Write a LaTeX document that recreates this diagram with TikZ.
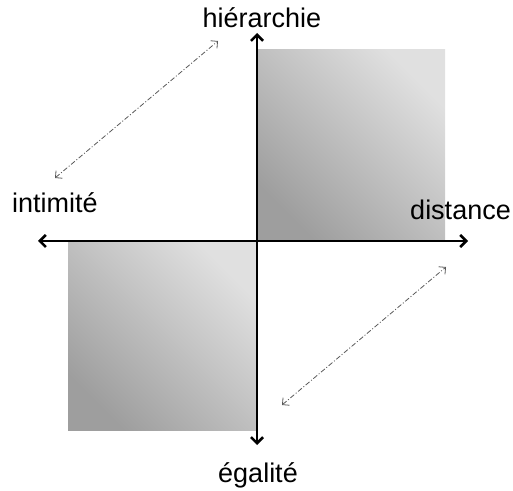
\documentclass[tikz,border=0pt]{standalone}
\usepackage{fontspec}
\setmainfont{Liberation Sans}
\usetikzlibrary{arrows.meta}

\tikzset{
    axis/.style={line width=2.6pt, -{Straight Barb[length=6pt,width=12pt]}},
    link/.style={black!65, line width=0.8pt, dash pattern=on 5pt off 2pt on 1pt off 2pt, {Straight Barb[length=5pt,width=10pt]}-{Straight Barb[length=5pt,width=10pt]}},
    quad/.style={bottom color=black!38, top color=black!12, shading angle=-45},
    lbl/.style={anchor=base, inner sep=0pt, font=\fontsize{27}{32}\selectfont}
}

\begin{document}
\begin{tikzpicture}[x=1pt, y=1pt]
    \useasboundingbox (0,0) rectangle (513,490);
    \shade[quad] (258,250) rectangle (445,440);
    \shade[quad] (68,60) rectangle (256,248);
    \coordinate (O) at (257,249);
    \coordinate (xl) at (38,249);
    \coordinate (xr) at (468,249);
    \coordinate (yt) at (257,457);
    \coordinate (yb) at (257,45);
    \draw[axis] (O) -- (xl);
    \draw[axis] (O) -- (xr);
    \draw[axis] (O) -- (yt);
    \draw[axis] (O) -- (yb);
    \node[lbl] (hier) at (262,462) {hiérarchie};
    \node[lbl, anchor=base west] (intim) at (12,277) {intimité};
    \node[lbl, anchor=base east] (dist) at (511,270) {distance};
    \node[lbl] (egal) at (258,8) {égalité};
    \coordinate (a1) at (55,312);
    \coordinate (a2) at (218,449);
    \coordinate (b1) at (282,85);
    \coordinate (b2) at (446,223);
    \draw[link] (a1) -- (a2);
    \draw[link] (b1) -- (b2);
\end{tikzpicture}
\end{document}
